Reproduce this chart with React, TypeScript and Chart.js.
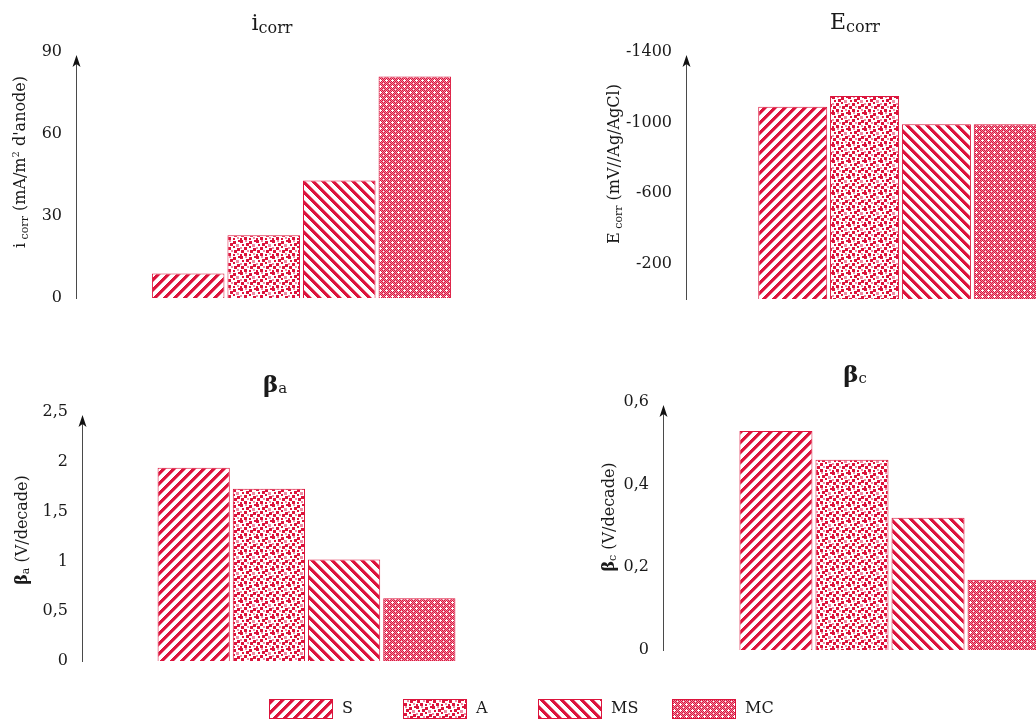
import React, { useEffect, useRef } from 'react';
import { Chart, registerables } from 'chart.js';

Chart.register(...registerables);

// ---------- data ----------
const seriesNames = ['S', 'A', 'MS', 'MC'];
const icorrValues = [9, 23, 43, 81];
const ecorrValues = [-1090, -1150, -990, -990];
const betaAValues = [1.94, 1.73, 1.02, 0.63];
const betaCValues = [0.53, 0.46, 0.32, 0.17];
const icorrTicks = [0, 30, 60, 90];
const ecorrTicks = [-200, -600, -1000, -1400];
const betaATicks = [0, 0.5, 1, 1.5, 2, 2.5];
const betaCTicks = [0, 0.2, 0.4, 0.6];

// ---------- styles ----------
const RED = '#DC143C';
const PINK = '#EE8AA2';
const SERIF = '"DejaVu Serif", serif';

type Seg = { t: string; size: number; bold?: boolean; dy?: number };

function font(s: Seg) {
  return `${s.bold ? 'bold ' : ''}${s.size}px ${SERIF}`;
}

function drawRich(ctx: CanvasRenderingContext2D, segs: Seg[], cx: number, base: number, rotate: boolean, color = '#1a1a1a') {
  ctx.save();
  if (rotate) {
    ctx.translate(base, cx);
    ctx.rotate(-Math.PI / 2);
  } else {
    ctx.translate(cx, base);
  }
  ctx.fillStyle = color;
  ctx.textBaseline = 'alphabetic';
  ctx.textAlign = 'left';
  const widths = segs.map((s) => {
    ctx.font = font(s);
    return ctx.measureText(s.t).width;
  });
  const total = widths.reduce((a, b) => a + b, 0);
  let x = -total / 2;
  segs.forEach((s, i) => {
    ctx.font = font(s);
    ctx.fillText(s.t, x, s.dy || 0);
    x += widths[i];
  });
  ctx.restore();
}

// ---------- patterns ----------
function makePattern(size: number, fn: (x: number, y: number) => string | null) {
  const c = document.createElement('canvas');
  c.width = size;
  c.height = size;
  const g = c.getContext('2d')!;
  g.fillStyle = '#ffffff';
  g.fillRect(0, 0, size, size);
  for (let y = 0; y < size; y++) {
    for (let x = 0; x < size; x++) {
      const col = fn(x, y);
      if (col) {
        g.fillStyle = col;
        g.fillRect(x, y, 1, 1);
      }
    }
  }
  return g.createPattern(c, 'repeat') as CanvasPattern;
}

// confetti squares in a 16px tile: x, y, size, solid(1)/pale(0)
const confetti: number[][] = [
  [0, 0, 3, 1], [5, 0, 2, 0], [9, 1, 3, 1], [14, 0, 2, 1],
  [2, 4, 2, 1], [6, 3, 3, 1], [12, 4, 3, 0],
  [0, 7, 2, 0], [4, 7, 3, 1], [9, 6, 2, 1], [13, 8, 3, 1],
  [1, 10, 3, 1], [7, 10, 2, 0], [10, 10, 3, 1],
  [4, 13, 3, 1], [9, 14, 2, 1], [13, 13, 2, 0], [0, 14, 2, 1],
];

function buildPatterns() {
  const up = makePattern(10, (x, y) => {
    const d = (x + y) % 10;
    return d < 4 ? RED : d === 4 ? PINK : null;
  });
  const down = makePattern(10, (x, y) => {
    const d = (((x - y) % 10) + 10) % 10;
    return d < 4 ? RED : d === 4 ? PINK : null;
  });
  const conf = makePattern(16, (x, y) => {
    for (const [sx, sy, sz, full] of confetti) {
      if (x >= sx && x < sx + sz && y >= sy && y < sy + sz) return full ? RED : PINK;
    }
    return null;
  });
  const mc = makePattern(6, (x, y) => {
    const plus = (x === 2 && y >= 1 && y <= 3) || (y === 2 && x >= 1 && x <= 3);
    if (plus || (x === 5 && y === 5)) return null;
    return (x + y) % 2 === 0 ? RED : PINK;
  });
  return [up, conf, down, mc];
}

// ---------- chart panel ----------
type Panel = {
  left: number; top: number; width: number; height: number;
  values: number[]; ticks: number[]; min: number; max: number; reverse?: boolean;
  axisWidth: number; padTop: number; padBottom: number;
  title: Seg[]; titleX: number; titleBase: number;
  yTitle: Seg[]; yTitleY: number; yTitleBase: number;
};

const panels: Panel[] = [
  {
    left: 0, top: 0, width: 527, height: 322,
    values: icorrValues, ticks: icorrTicks, min: 0, max: 90,
    axisWidth: 76, padTop: 52, padBottom: 24,
    title: [{ t: 'i', size: 22 }, { t: 'corr', size: 16, dy: 3 }], titleX: 272, titleBase: 30,
    yTitle: [
      { t: 'i', size: 16 }, { t: ' corr', size: 11, dy: 3 }, { t: ' (mA/m', size: 16 },
      { t: '2', size: 10, dy: -6 }, { t: ' d\'anode)', size: 16 },
    ],
    yTitleY: 162, yTitleBase: 25,
  },
  {
    left: 560, top: 0, width: 555, height: 323,
    values: ecorrValues, ticks: ecorrTicks, min: -1400, max: 0, reverse: true,
    axisWidth: 126, padTop: 52, padBottom: 24,
    title: [{ t: 'E', size: 22 }, { t: 'corr', size: 16, dy: 3 }], titleX: 295, titleBase: 29,
    yTitle: [
      { t: 'E', size: 16 }, { t: ' corr', size: 11, dy: 3 }, { t: ' (mV//Ag/AgCl)', size: 16 },
    ],
    yTitleY: 164, yTitleBase: 59,
  },
  {
    left: 0, top: 360, width: 531, height: 325,
    values: betaAValues, ticks: betaATicks, min: 0, max: 2.5,
    axisWidth: 82, padTop: 52, padBottom: 24,
    title: [{ t: 'β', size: 23, bold: true }, { t: 'a', size: 15, dy: 1 }], titleX: 275, titleBase: 32,
    yTitle: [
      { t: 'β', size: 16, bold: true }, { t: 'a', size: 11, dy: 2 }, { t: ' (V/decade)', size: 16 },
    ],
    yTitleY: 170, yTitleBase: 27,
  },
  {
    left: 560, top: 360, width: 557, height: 314,
    values: betaCValues, ticks: betaCTicks, min: 0, max: 0.6,
    axisWidth: 103, padTop: 42, padBottom: 24,
    title: [{ t: 'β', size: 23, bold: true }, { t: 'c', size: 15, dy: 1 }], titleX: 295, titleBase: 22,
    yTitle: [
      { t: 'β', size: 16, bold: true }, { t: 'c', size: 11, dy: 2 }, { t: ' (V/decade)', size: 16 },
    ],
    yTitleY: 157, yTitleBase: 54,
  },
];

function BarPanel({ p }: { p: Panel }) {
  const ref = useRef<HTMLCanvasElement>(null);
  useEffect(() => {
    const pats = buildPatterns();
    const decor = {
      id: 'decor',
      afterDraw(chart: any) {
        const ctx: CanvasRenderingContext2D = chart.ctx;
        const a = chart.chartArea;
        const x = Math.round(a.left) + 0.5;
        const tip = a.top + 3;
        ctx.save();
        ctx.strokeStyle = '#4a4a4a';
        ctx.lineWidth = 1;
        ctx.beginPath();
        ctx.moveTo(x, a.bottom + 1);
        ctx.lineTo(x, tip + 6);
        ctx.stroke();
        ctx.fillStyle = '#111';
        ctx.beginPath();
        ctx.moveTo(x, tip);
        ctx.lineTo(x - 4, tip + 12);
        ctx.lineTo(x, tip + 9);
        ctx.lineTo(x + 4, tip + 12);
        ctx.closePath();
        ctx.fill();
        ctx.restore();
        drawRich(ctx, p.title, p.titleX, p.titleBase, false);
        drawRich(ctx, p.yTitle, p.yTitleY, p.yTitleBase, true);
      },
    };
    const chart = new Chart(ref.current!, {
      type: 'bar',
      data: {
        labels: [''],
        datasets: seriesNames.map((n, i) => ({
          label: n,
          data: [p.values[i]],
          backgroundColor: pats[i],
          borderColor: RED,
          borderWidth: 1,
          categoryPercentage: 0.67,
          barPercentage: 0.96,
        })),
      },
      options: {
        responsive: false,
        animation: false,
        devicePixelRatio: 1,
        layout: { padding: { top: p.padTop, bottom: p.padBottom, left: 0, right: 0 } },
        plugins: { legend: { display: false }, title: { display: false }, tooltip: { enabled: false } },
        scales: {
          x: { display: false },
          y: {
            min: p.min,
            max: p.max,
            reverse: !!p.reverse,
            grid: { display: false, drawTicks: false },
            border: { display: false },
            afterFit: (s: any) => { s.width = p.axisWidth; },
            afterBuildTicks: (s: any) => { s.ticks = p.ticks.map((v) => ({ value: v })); },
            ticks: {
              padding: 14,
              color: '#1a1a1a',
              font: { family: SERIF, size: 16 },
              callback: (v: any) => String(v).replace('.', ','),
            },
          },
        },
      } as any,
      plugins: [decor],
    });
    return () => chart.destroy();
  }, []);
  return (
    <canvas
      ref={ref}
      width={p.width}
      height={p.height}
      style={{ position: 'absolute', left: p.left, top: p.top, width: p.width, height: p.height }}
    />
  );
}

function LegendStrip() {
  const ref = useRef<HTMLCanvasElement>(null);
  useEffect(() => {
    const pats = buildPatterns();
    const drawLegend = {
      id: 'fixedLegend',
      afterDraw(chart: any) {
        const ctx: CanvasRenderingContext2D = chart.ctx;
        const start = 269;
        const step = 134.3;
        chart.data.datasets.forEach((ds: any, i: number) => {
          const x = Math.round(start + i * step);
          ctx.save();
          ctx.fillStyle = ds.backgroundColor;
          ctx.fillRect(x, 9, 64, 20);
          ctx.strokeStyle = RED;
          ctx.lineWidth = 1;
          ctx.strokeRect(x + 0.5, 9.5, 63, 19);
          ctx.fillStyle = '#1a1a1a';
          ctx.font = `16px ${SERIF}`;
          ctx.textBaseline = 'middle';
          ctx.textAlign = 'left';
          ctx.fillText(ds.label, x + 73, 19);
          ctx.restore();
        });
      },
    };
    const chart = new Chart(ref.current!, {
      type: 'bar',
      data: {
        labels: [''],
        datasets: seriesNames.map((n, i) => ({ label: n, data: [], backgroundColor: pats[i] })),
      },
      options: {
        responsive: false,
        animation: false,
        devicePixelRatio: 1,
        plugins: { legend: { display: false }, tooltip: { enabled: false } },
        scales: { x: { display: false }, y: { display: false } },
      } as any,
      plugins: [drawLegend],
    });
    return () => chart.destroy();
  }, []);
  return (
    <canvas
      ref={ref}
      width={1036}
      height={32}
      style={{ position: 'absolute', left: 0, top: 690, width: 1036, height: 32 }}
    />
  );
}

export default function App() {
  return (
    <div
      style={{
        position: 'fixed', left: 0, top: 0, width: 1036, height: 722,
        overflow: 'hidden', background: '#fff',
      }}
    >
      {panels.map((p, i) => (
        <BarPanel key={i} p={p} />
      ))}
      <LegendStrip />
    </div>
  );
}
